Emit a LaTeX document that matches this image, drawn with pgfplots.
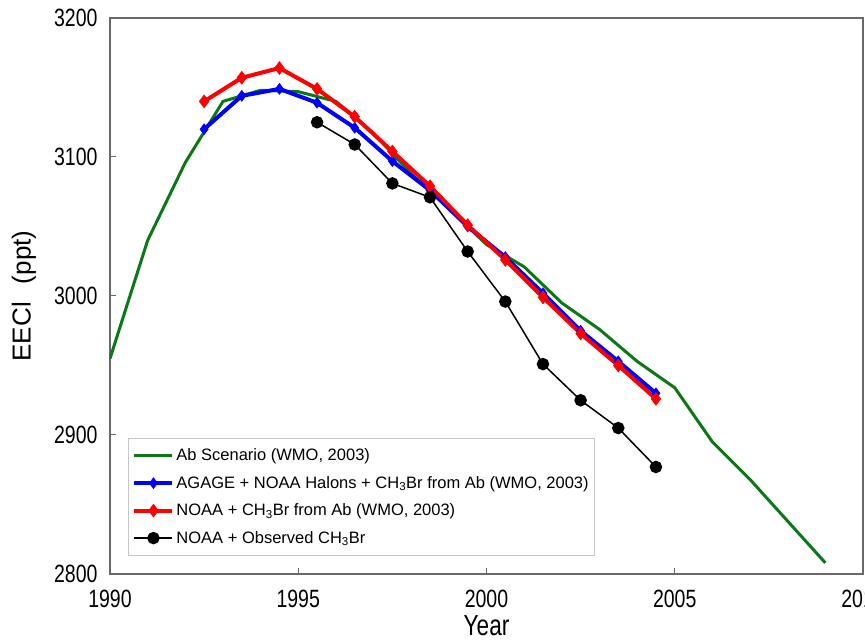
\documentclass[border=0pt]{standalone}
\usepackage{fontspec}
\setmainfont{Liberation Sans}
\newfontfamily\narrowfont[FakeStretch=0.78]{Liberation Sans}
\usepackage{pgfplots}
\pgfplotsset{compat=1.18}
\definecolor{abgreen}{RGB}{10,120,20}
\definecolor{axgray}{RGB}{105,105,105}
\begin{document}
\begin{tikzpicture}
\begin{axis}[at={(0pt,0pt)}, anchor=south west,
 scale only axis, width=753pt, height=556pt,
 xmin=1990, xmax=2010, ymin=2800, ymax=3200,
 xtick={1990,1995,2000,2005,2010}, ytick={2800,2900,3000,3100,3200},
 /pgf/number format/1000 sep={},
 /pgf/number format/assume math mode=true,
 tick label style={font=\narrowfont\fontsize{25}{30}\selectfont},
 xticklabel style={yshift=-13pt},
 yticklabel style={xshift=-9pt},
 axis line style={axgray, line width=1.5pt},
 tick style={axgray, line width=1pt},
 tick align=inside, major tick length=6pt,
 xtick pos=bottom, ytick pos=left,
 xlabel={Year}, ylabel={EECl\hspace{0.7em}(ppt)},
 xlabel style={font=\narrowfont\fontsize{29}{34}\selectfont, at={(axis description cs:0.5,0)}, anchor=north, yshift=-41pt, inner sep=0pt},
 ylabel style={font=\fontsize{26}{31}\selectfont, at={(axis description cs:-0.098,0.5)}, anchor=south, inner sep=0pt},
 legend style={at={(axis description cs:0.024,0.032)}, anchor=south west, draw=gray!45, line width=0.8pt,
   font=\fontsize{16.5}{20}\selectfont, row sep=10pt, inner xsep=4pt, inner ysep=9pt},
 legend cell align=left,
 legend image code/.code={\draw[mark repeat=2,mark phase=2] plot coordinates {(0pt,0pt)(19pt,0pt)(38pt,0pt)};},
]
\addplot[abgreen, line width=3pt, no marks] coordinates {
(1990,2955)(1991,3040)(1992,3096)(1993,3140)(1994,3148)(1995,3147)(1996,3140)
(1997,3117)(1998,3088)(1999,3063)(2000,3037)(2001,3021)(2002,2995)(2003,2976)
(2004,2953)(2005,2934)(2006,2895)(2007,2868)(2008,2838)(2009,2808)};
\addlegendentry{Ab Scenario (WMO, 2003)}
\addplot[blue, line width=4pt, mark=diamond*, mark size=5.5pt, mark options={solid, line width=0.5pt, fill=blue}] coordinates {
(1992.5,3120)(1993.5,3144)(1994.5,3149)(1995.5,3139)(1996.5,3121)(1997.5,3097)
(1998.5,3076)(1999.5,3050)(2000.5,3028)(2001.5,3002)(2002.5,2975)(2003.5,2953)(2004.5,2930)};
\addlegendentry{AGAGE + NOAA Halons + CH\textsubscript{3}Br from Ab (WMO, 2003)}
\addplot[red, line width=4pt, mark=diamond*, mark size=6.5pt, mark options={solid, line width=0.5pt, fill=red}] coordinates {
(1992.5,3140)(1993.5,3157)(1994.5,3164)(1995.5,3149)(1996.5,3129)(1997.5,3104)
(1998.5,3079)(1999.5,3051)(2000.5,3026)(2001.5,2999)(2002.5,2973)(2003.5,2950)(2004.5,2926)};
\addlegendentry{NOAA + CH\textsubscript{3}Br from Ab (WMO, 2003)}
\addplot[black, line width=1.5pt, mark=*, mark size=5.5pt, mark options={solid, fill=black}] coordinates {
(1995.5,3125)(1996.5,3109)(1997.5,3081)(1998.5,3071)(1999.5,3032)(2000.5,2996)
(2001.5,2951)(2002.5,2925)(2003.5,2905)(2004.5,2877)};
\addlegendentry{NOAA + Observed CH\textsubscript{3}Br}
\end{axis}
\pgfresetboundingbox
\path[use as bounding box] (-110pt,-66pt) rectangle (755pt,574pt);
\end{tikzpicture}
\end{document}
